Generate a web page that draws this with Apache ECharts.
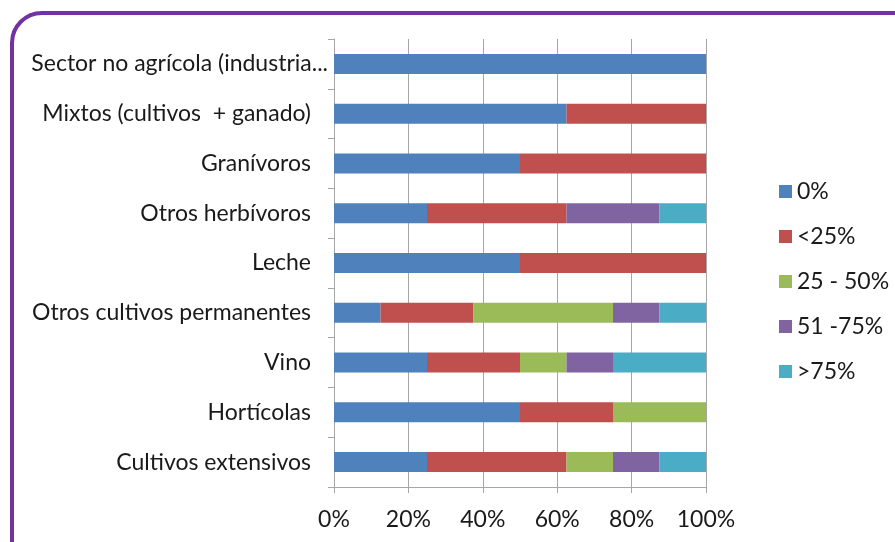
<!DOCTYPE html>
<html>
<head>
<meta charset="utf-8">
<script src="https://cdn.jsdelivr.net/npm/echarts@6/dist/echarts.min.js"></script>
<style>
  html, body { margin: 0; padding: 0; background: #fff; }
  #chart { width: 895px; height: 542px; }
</style>
</head>
<body>
<div id="chart"></div>
<script>
// categorias (de arriba a abajo)
var categories = [
  "Sector no agrícola (industria...",
  "Mixtos (cultivos  + ganado)",
  "Granívoros",
  "Otros herbívoros",
  "Leche",
  "Otros cultivos permanentes",
  "Vino",
  "Hortícolas",
  "Cultivos extensivos"
];
var seriesNames = ["0%", "<25%", "25 - 50%", "51 -75%", ">75%"];
var s0 = [100, 62.5, 50, 25, 50, 12.5, 25, 50, 25];
var s25 = [0, 37.5, 50, 37.5, 50, 25, 25, 25, 37.5];
var s50 = [0, 0, 0, 0, 0, 37.5, 12.5, 25, 12.5];
var s75 = [0, 0, 0, 25, 0, 12.5, 12.5, 0, 12.5];
var s100 = [0, 0, 0, 12.5, 0, 12.5, 25, 0, 12.5];
var xTicks = [0, 20, 40, 60, 80, 100];

var colors = ["#4f81bd", "#c0504d", "#9bbb59", "#8064a2", "#4bacc6"];
var values = [s0, s25, s50, s75, s100];

var chart = echarts.init(document.getElementById("chart"));
var font = "Lato, 'Open Sans', sans-serif";
var txt = "#1a1a1a";

var option = {
  animation: false,
  color: colors,
  textStyle: { fontFamily: font },
  graphic: [
    {
      type: "rect",
      shape: { x: 12, y: 13, width: 920, height: 560, r: 30 },
      style: { fill: "none", stroke: "#7232a3", lineWidth: 4 },
      z: 100
    }
  ],
  grid: { left: 334, right: 189, top: 39, bottom: 55 },
  legend: {
    orient: "vertical",
    left: 774,
    top: 175,
    icon: "rect",
    itemWidth: 13,
    itemHeight: 13,
    itemGap: 22,
    textStyle: { fontSize: 23, color: txt, fontFamily: font },
    data: seriesNames
  },
  xAxis: {
    type: "value",
    min: 0,
    max: 100,
    interval: 20,
    axisLine: { show: true, lineStyle: { color: "#a6a6a6" } },
    axisTick: { show: true, length: 6, lineStyle: { color: "#a6a6a6" } },
    splitLine: { show: true, lineStyle: { color: "#a6a6a6", width: 1 } },
    axisLabel: {
      fontSize: 23,
      color: txt,
      margin: 21,
      formatter: function (v) { return xTicks.indexOf(v) >= 0 ? v + "%" : ""; }
    }
  },
  yAxis: {
    type: "category",
    inverse: true,
    data: categories,
    axisLine: { show: true, lineStyle: { color: "#a6a6a6" } },
    axisTick: { show: true, length: 6, lineStyle: { color: "#a6a6a6" } },
    axisLabel: {
      margin: 6,
      formatter: function (v, i) {
        return i === 0 ? "{s|" + v + "}" : "{n|" + v + "}";
      },
      rich: {
        s: { fontSize: 23, color: txt, fontFamily: font },
        n: { fontSize: 23, color: txt, fontFamily: font, padding: [0, 17, 0, 0] }
      }
    }
  },
  series: seriesNames.map(function (name, k) {
    return {
      name: name,
      type: "bar",
      stack: "total",
      barWidth: 20,
      data: values[k]
    };
  })
};

chart.setOption(option);
</script>
</body>
</html>
